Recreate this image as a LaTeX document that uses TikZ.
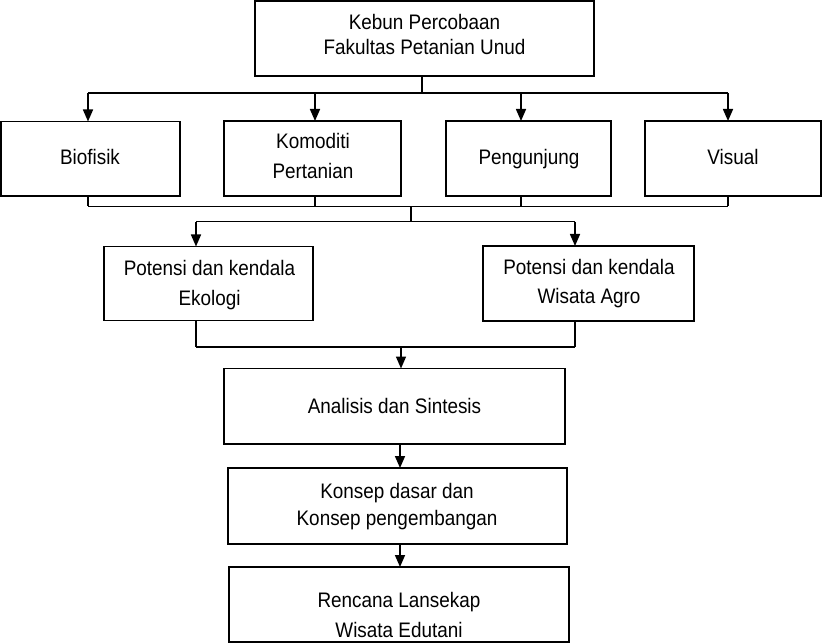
\documentclass[tikz,border=0pt]{standalone}
\usepackage{fontspec}
\setmainfont{Liberation Sans}[FakeStretch=0.9]
\usetikzlibrary{arrows.meta}
\begin{document}
\begin{tikzpicture}[x=1pt,y=-1pt,
  box/.style={draw=black, line width=1.9pt, rectangle, inner sep=0pt, outer sep=0pt},
  txt/.style={anchor=base, inner sep=0pt, font=\fontsize{21}{25}\selectfont},
  conn/.style={draw=black, line width=1.6pt},
  arr/.style={conn, -{Triangle[length=12pt,width=10pt]}}]
\useasboundingbox (0,0) rectangle (822,644);
% boxes
\node[box, minimum width=339pt, minimum height=75pt] (top) at (424.5,38.5) {};
\node[box, minimum width=179pt, minimum height=74.5pt] (bio) at (90.5,158.75) {};
\node[box, minimum width=177pt, minimum height=75pt] (kom) at (312.5,158.5) {};
\node[box, minimum width=165pt, minimum height=75pt] (peng) at (528.5,158.5) {};
\node[box, minimum width=176pt, minimum height=75pt] (vis) at (733,158.5) {};
\node[box, minimum width=209pt, minimum height=74pt] (eko) at (208.5,283.5) {};
\node[box, minimum width=211pt, minimum height=75pt] (agro) at (588.5,283.5) {};
\node[box, minimum width=341pt, minimum height=75.5pt] (ana) at (394.5,406.25) {};
\node[box, minimum width=339pt, minimum height=76pt] (kon) at (397.5,506) {};
\node[box, minimum width=340pt, minimum height=75pt] (ren) at (399,604.5) {};
% texts
\node[txt] (topA) at (424.5,30) {Kebun Percobaan};
\node[txt] (topB) at (424.5,54.5) {Fakultas Petanian Unud};
\node[txt] (bioT) at (90,164.5) {Biofisik};
\node[txt] (komA) at (313,149) {Komoditi};
\node[txt] (komB) at (313,179) {Pertanian};
\node[txt] (pengT) at (529,165) {Pengunjung};
\node[txt] (visT) at (733,165) {Visual};
\node[txt] (ekoA) at (209.5,275.5) {Potensi dan kendala};
\node[txt] (ekoB) at (209.5,305.5) {Ekologi};
\node[txt] (agroA) at (589,274.5) {Potensi dan kendala};
\node[txt] (agroB) at (589,303.5) {Wisata Agro};
\node[txt] (anaT) at (394.5,413) {Analisis dan Sintesis};
\node[txt] (konA) at (397,498) {Konsep dasar dan};
\node[txt] (konB) at (397,525) {Konsep pengembangan};
\node[txt] (renA) at (399,607) {Rencana Lansekap};
\node[txt] (renB) at (399,637.5) {Wisata Edutani};
% top fan-out
\coordinate (s1) at (421.7,93);
\coordinate (b1) at (88,93);
\coordinate (b2) at (315,93);
\coordinate (b3) at (521,93);
\coordinate (b4) at (728,93);
\draw[conn] (top.south -| s1) -- (s1);
\draw[conn] (b1) -- (b4);
\draw[arr] (b1) -- (b1 |- bio.north);
\draw[arr] (b2) -- (b2 |- kom.north);
\draw[arr] (b3) -- (b3 |- peng.north);
\draw[arr] (b4) -- (b4 |- vis.north);
% collect row 2
\coordinate (c1) at (88,206.5);
\coordinate (c2) at (315,206.5);
\coordinate (c3) at (521,206.5);
\coordinate (c4) at (728,206.5);
\draw[conn] (bio.south -| c1) -- (c1);
\draw[conn] (kom.south -| c2) -- (c2);
\draw[conn] (peng.south -| c3) -- (c3);
\draw[conn] (vis.south -| c4) -- (c4);
\draw[conn] (c1) -- (c4);
\coordinate (m1) at (411,206.5);
\coordinate (m2) at (411,221.7);
\coordinate (d1) at (196,221.7);
\coordinate (d2) at (575,221.7);
\draw[conn] (m1) -- (m2);
\draw[conn] (d1) -- (d2);
\draw[arr] (d1) -- (d1 |- eko.north);
\draw[arr] (d2) -- (d2 |- agro.north);
% collect row 3
\coordinate (e1) at (196,346.7);
\coordinate (e2) at (575,346.7);
\coordinate (e3) at (401,346.7);
\draw[conn] (eko.south -| e1) -- (e1);
\draw[conn] (agro.south -| e2) -- (e2);
\draw[conn] (e1) -- (e2);
\draw[arr] (e3) -- (e3 |- ana.north);
% chain
\coordinate (f1) at (400,444);
\draw[arr] (f1) -- (f1 |- kon.north);
\coordinate (f2) at (400,544);
\draw[arr] (f2) -- (f2 |- ren.north);
\end{tikzpicture}
\end{document}
